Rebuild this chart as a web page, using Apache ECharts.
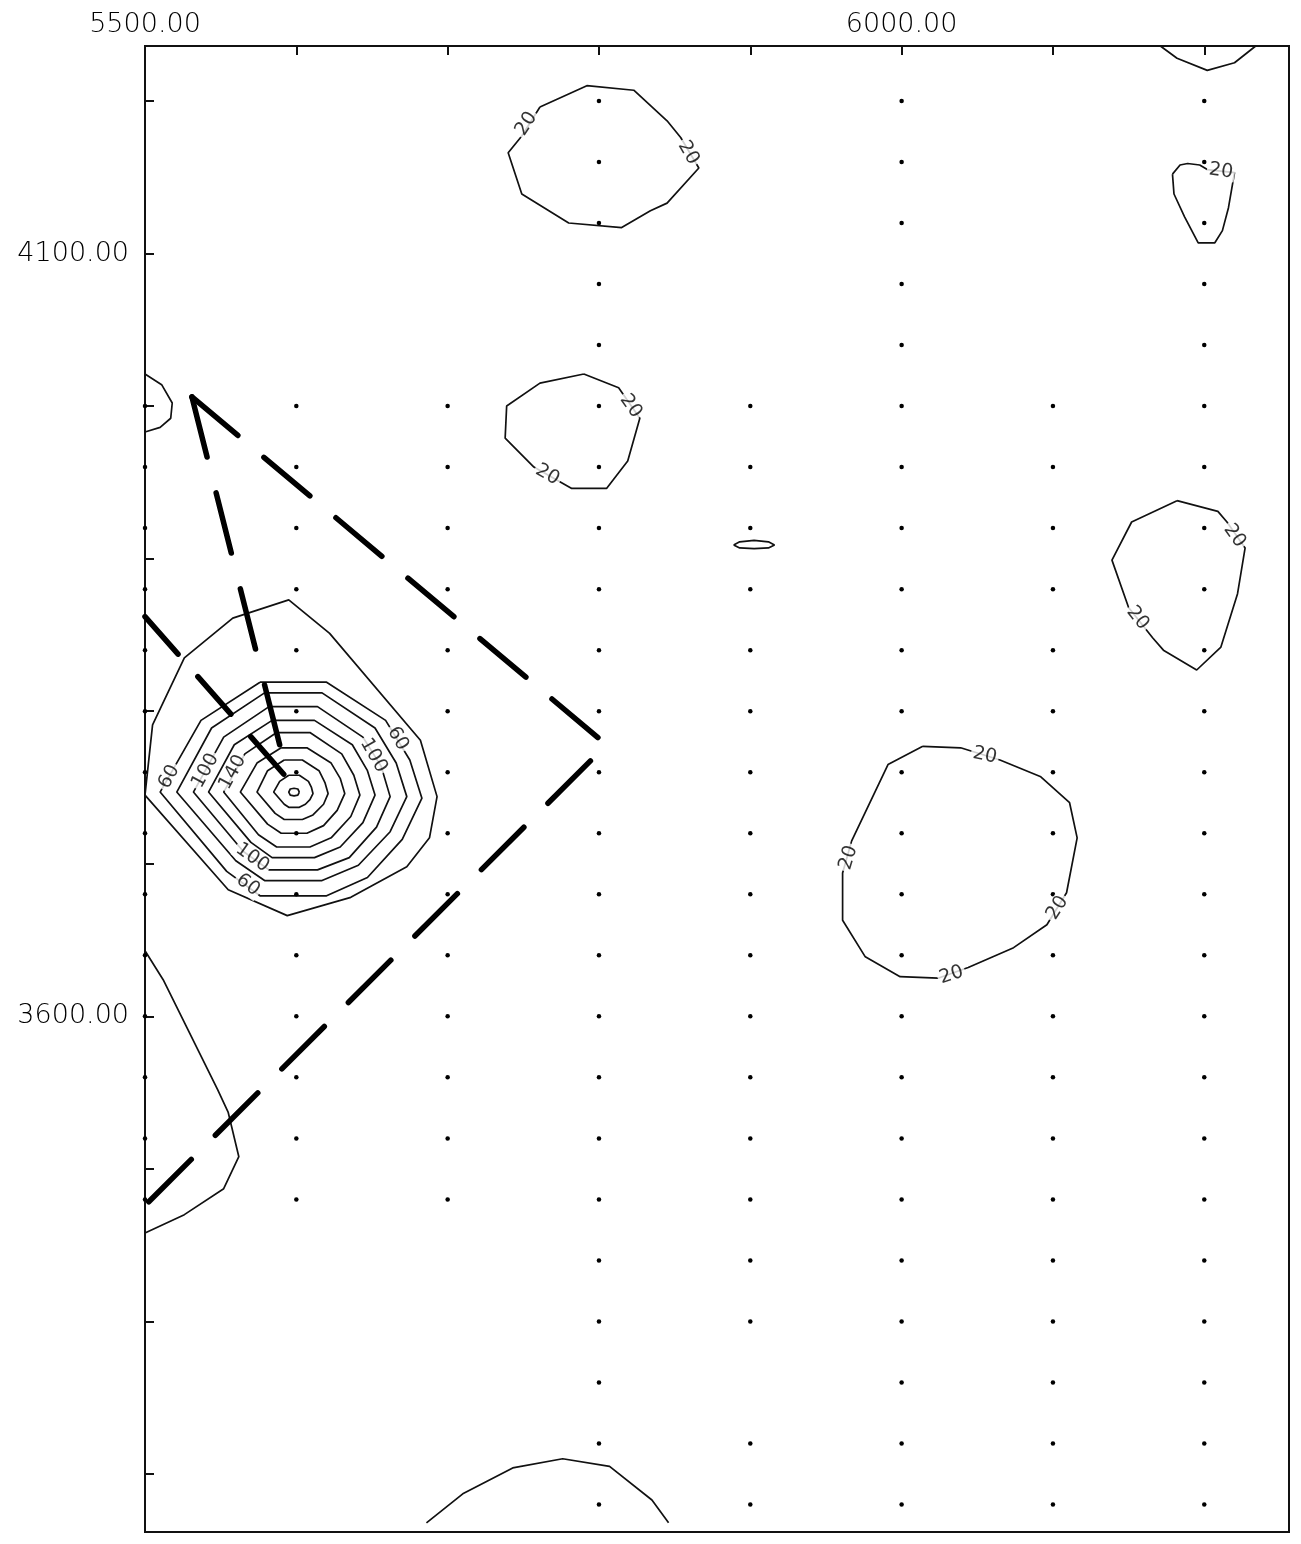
<!DOCTYPE html>
<html>
<head>
<meta charset="utf-8">
<script src="https://cdn.jsdelivr.net/npm/echarts@6/dist/echarts.min.js"></script>
<style>
  html, body { margin: 0; padding: 0; background: #fff; }
  #map { width: 1301px; height: 1544px; }
</style>
</head>
<body>
<div id="map"></div>
<script>
// ---- axes (easting along the top, northing on the left) ----
const eastingTicks   = [5500, 5600, 5700, 5800, 5900, 6000, 6100, 6200];
const eastingLabels  = [5500, 6000];
const northingTicks  = [3300, 3400, 3500, 3600, 3700, 3800, 3900, 4000, 4100, 4200];
const northingLabels = [3600, 4100];

// ---- survey stations: line eastings, station northings, extent of each line ----
const stationNorthings = [4200, 4160, 4120, 4080, 4040, 4000, 3960, 3920, 3880, 3840, 3800, 3760,
                          3720, 3680, 3640, 3600, 3560, 3520, 3480, 3440, 3400, 3360, 3320, 3280];
// [easting, first northing, last northing]
const surveyLines = [
  [5500, 4000, 3480], [5600, 4000, 3480], [5700, 4000, 3480], [5800, 4200, 3280],
  [5900, 4000, 3280], [6000, 4200, 3280], [6100, 4000, 3280], [6200, 4200, 3280]
];
const missingStations = [[5900, 3360]];

// ---- contour lines (easting, northing) ----
const c20North = [[5761,4196],[5792,4210],[5823,4207],[5845,4187],[5854,4176],[5866,4156],[5845,4133],
                  [5834,4128],[5815,4117],[5780,4120],[5749,4139],[5740,4166],[5749,4177]];
const c20NorthEastEdge = [[6171,4236],[6182,4228],[6202,4220],[6220,4225],[6234,4236]];
const c20NorthEast = [[6179,4152],[6184,4158],[6189,4159],[6197,4158],[6202,4155],[6220,4153],[6216,4130],
                      [6212,4115],[6207,4107],[6196,4107],[6187,4124],[6180,4139]];
const c20WestEdge = [[5500,4021],[5511,4014],[5518,4002],[5517,3992],[5510,3986],[5500,3983]];
const c20Central = [[5790,4021],[5813,4012],[5827,3992],[5819,3964],[5805,3946],[5782,3946],[5757,3960],
                    [5738,3979],[5739,4000],[5761,4015]];
const c20Spot = [[5889,3909],[5893,3911],[5902.5,3912],[5912,3911],[5916,3909],[5912,3907],[5902.5,3906.5],[5893,3907]];
const c20East = [[6182,3938],[6209,3931],[6215,3924],[6227,3907],[6222,3877],[6211,3842],[6195,3827],
                 [6173,3840],[6166,3848],[6150,3868],[6139,3899],[6152,3924]];
const c20SouthEast = [[6014,3777],[6039,3776],[6065,3768],[6092,3757],[6111,3740],[6116,3717],[6109,3681],
                      [6096,3660],[6074,3645],[6044,3632],[6024,3625],[5999,3626],[5976,3639],[5961,3663],
                      [5961,3694],[5967,3715],[5991,3765]];
const c20Anomaly = [[5500,3745],[5505,3791],[5526,3835],[5558,3861],[5595,3873],[5622,3851],[5682,3781],
                    [5693,3744],[5688,3717],[5673,3698],[5636,3678],[5594,3666],[5555,3683]];
const c20SouthWest = [[5500,3643],[5512,3624],[5548,3552],[5555,3537],[5562,3508],[5552,3487],[5526,3470],[5500,3458]];
const c20South = [[5686,3268],[5710,3287],[5743,3304],[5776,3310],[5807,3305],[5835,3283],[5846,3268]];

const c60  = [[5576,3819],[5620,3819],[5659,3794],[5675,3768],[5683,3743],[5670,3716],[5647,3691],[5620,3679],[5576,3679],[5554,3695],[5510,3747],[5537,3794]];
const c80  = [[5579,3812],[5617,3812],[5652,3789],[5666,3766],[5673,3744],[5662,3721],[5641,3699],[5617,3689],[5579,3689],[5560,3702],[5521,3747],[5544,3789]];
const c100 = [[5582,3803],[5614,3803],[5644,3783],[5656,3764],[5662,3744],[5653,3724],[5635,3704],[5614,3696],[5582,3696],[5565,3708],[5532,3747],[5552,3783]];
const c120 = [[5584,3794],[5612,3794],[5637,3778],[5647,3761],[5652,3745],[5644,3727],[5629,3711],[5612,3704],[5584,3704],[5570,3714],[5542,3747],[5559,3778]];
const c140 = [[5587,3786],[5609,3786],[5630,3772],[5638,3758],[5642,3745],[5636,3731],[5623,3717],[5609,3711],[5587,3711],[5575,3719],[5552,3747],[5566,3772]];
const c160 = [[5590,3776],[5607,3776],[5623,3766],[5629,3756],[5632,3746],[5627,3735],[5618,3725],[5607,3720],[5590,3720],[5581,3726],[5563,3747],[5574,3766]];
const c180 = [[5592,3768],[5604,3768],[5615,3761],[5619,3753],[5621,3746],[5618,3739],[5611,3732],[5604,3729],[5592,3729],[5586,3733],[5574,3747],[5581,3761]];
const c200 = [[5595,3758],[5602,3758],[5608,3754],[5610,3750],[5611,3746],[5609,3742],[5606,3739],[5602,3737],[5595,3737],[5592,3739],[5585,3747],[5589,3754]];
const c220 = [[5602,3747],[5601,3749],[5598.5,3749.5],[5596,3749],[5595,3747],[5596,3745],[5598.5,3744.5],[5601,3745]];

// [easting, northing, text, rotation in degrees]
const contourLabels = [
  [5752, 4185, '20', 57], [5859, 4166, '20', -60], [6211, 4154, '20', -8],
  [5821, 4000, '20', -55], [5766, 3955, '20', -30],
  [6220, 3915, '20', -55], [6156, 3861, '20', -51],
  [6055, 3771, '20', -12], [6103, 3671, '20', 58], [6033, 3627, '20', 18], [5965, 3704, '20', 73],
  [5667, 3782, '60', -60], [5516, 3757, '60', 61], [5568, 3686, '60', -37],
  [5651, 3771, '100', -60], [5540, 3761, '100', 61], [5571, 3704, '100', -35],
  [5558, 3760, '140', 61]
];

// ---- grid traverse (heavy dashed) ----
const traverseOutline = [[5531,4006],[5805,3778],[5500,3476]];
const traverseSpurNorth = [[5531,4006],[5589,3778]];
const traverseSpurWest = [[5500,3862],[5595,3755]];

// ---- build series ----
const contours = [
  { pts: c20North, closed: true }, { pts: c20NorthEastEdge, closed: false },
  { pts: c20NorthEast, closed: true }, { pts: c20WestEdge, closed: false },
  { pts: c20Central, closed: true }, { pts: c20Spot, closed: true },
  { pts: c20East, closed: true }, { pts: c20SouthEast, closed: true },
  { pts: c20Anomaly, closed: true }, { pts: c20SouthWest, closed: false },
  { pts: c20South, closed: false },
  { pts: c60, closed: true }, { pts: c80, closed: true }, { pts: c100, closed: true },
  { pts: c120, closed: true }, { pts: c140, closed: true }, { pts: c160, closed: true },
  { pts: c180, closed: true }, { pts: c200, closed: true }, { pts: c220, closed: true }
];

const ink = '#111';
const series = [];

contours.forEach(c => {
  series.push({
    type: 'line', silent: true, showSymbol: false, z: 2,
    data: c.closed ? c.pts.concat([c.pts[0]]) : c.pts,
    lineStyle: { color: ink, width: 1.7 }
  });
});

[[traverseOutline, [60, 34]], [traverseSpurNorth, [62, 37]], [traverseSpurWest, [50, 30]]].forEach(([pts, dash]) => {
  series.push({
    type: 'line', silent: true, showSymbol: false, z: 3,
    data: pts,
    lineStyle: { color: '#000', width: 5.5, type: dash, cap: 'round' }
  });
});

const stations = [];
surveyLines.forEach(([x, top, bottom]) => {
  stationNorthings.forEach(y => {
    if (y <= top && y >= bottom && !missingStations.some(m => m[0] === x && m[1] === y)) {
      stations.push([x, y]);
    }
  });
});
series.push({
  type: 'scatter', silent: true, z: 4, symbolSize: 4.5,
  itemStyle: { color: '#000', opacity: 1 },
  data: stations
});

series.push({
  type: 'scatter', silent: true, z: 6, symbolSize: 0,
  data: contourLabels.map(([x, y, t, r]) => ({ name: t, value: [x, y], label: { rotate: r } })),
  label: {
    show: true, position: 'inside', formatter: '{b}',
    fontFamily: 'DejaVu Sans', fontSize: 19, color: '#000',
    backgroundColor: '#fff', padding: [0, 2]
  }
});

const chart = echarts.init(document.getElementById('map'), null, { renderer: 'canvas' });
chart.setOption({
  animation: false,
  backgroundColor: '#fff',
  grid: { left: 145, right: 12, top: 46, bottom: 12, show: true, borderColor: ink, borderWidth: 2, backgroundColor: '#fff' },
  xAxis: {
    type: 'value', position: 'top', min: 5500, max: 6256,
    axisLine: { show: true, lineStyle: { color: ink, width: 2 } },
    axisTick: { show: true, inside: true, length: 9, customValues: eastingTicks, lineStyle: { color: ink, width: 2 } },
    axisLabel: {
      customValues: eastingLabels, formatter: v => v.toFixed(2), margin: 8,
      fontFamily: 'DejaVu Sans', fontSize: 27, fontWeight: 200, color: '#000'
    },
    splitLine: { show: false }
  },
  yAxis: {
    type: 'value', min: 3262, max: 4236,
    axisLine: { show: true, lineStyle: { color: ink, width: 2 } },
    axisTick: { show: true, inside: true, length: 9, customValues: northingTicks, lineStyle: { color: ink, width: 2 } },
    axisLabel: {
      customValues: northingLabels, formatter: v => v.toFixed(2), margin: 16,
      fontFamily: 'DejaVu Sans', fontSize: 27, fontWeight: 200, color: '#000'
    },
    splitLine: { show: false }
  },
  series: series
});
</script>
</body>
</html>
